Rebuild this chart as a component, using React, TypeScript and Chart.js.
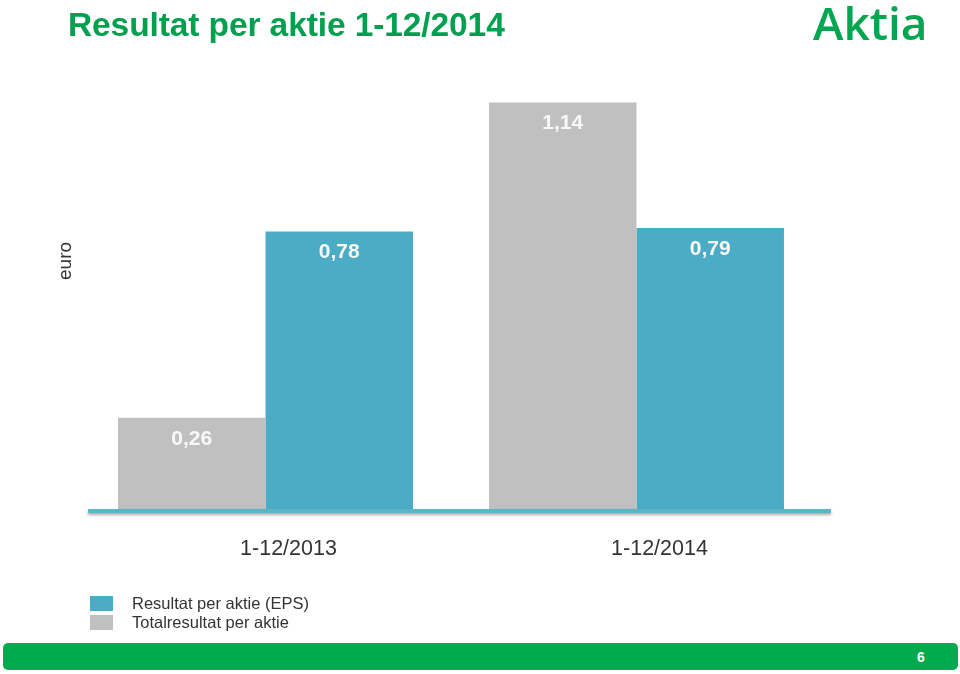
import React, { useEffect, useRef } from "react";
import { Chart, registerables } from "chart.js";

Chart.register(...registerables);

const categories = ["1-12/2013", "1-12/2014"];
const totalLabel = "Totalresultat per aktie";
const epsLabel = "Resultat per aktie (EPS)";
const totalValues = [0.26, 1.14];
const epsValues = [0.78, 0.79];
const yMax = 1.2;

const BLUE = "#4bacc6";
const GRAY = "#c0c0c0";
const GREEN = "#00ab4e";

const valueLabels = {
  id: "valueLabels",
  afterDatasetsDraw(chart: any) {
    const ctx = chart.ctx;
    ctx.save();
    ctx.font = "bold 21px 'Liberation Sans', Arial, sans-serif";
    ctx.fillStyle = "#f8f8f8";
    ctx.textAlign = "center";
    ctx.textBaseline = "middle";
    chart.data.datasets.forEach((ds: any, i: number) => {
      const meta = chart.getDatasetMeta(i);
      meta.data.forEach((el: any, j: number) => {
        const v = ds.data[j] as number;
        ctx.fillText(v.toFixed(2).replace(".", ","), el.x, el.y + 21);
      });
    });
    // axis line
    const a = chart.chartArea;
    ctx.shadowColor = "rgba(0,0,0,0.35)";
    ctx.shadowBlur = 3;
    ctx.shadowOffsetY = 2;
    ctx.strokeStyle = "#5bb5c6";
    ctx.lineWidth = 4;
    ctx.beginPath();
    ctx.moveTo(a.left + 8, a.bottom);
    ctx.lineTo(a.right + 9, a.bottom);
    ctx.stroke();
    ctx.restore();
  },
};

export default function App() {
  const ref = useRef<HTMLCanvasElement | null>(null);
  useEffect(() => {
    if (!ref.current) return;
    const chart = new Chart(ref.current, {
      type: "bar",
      data: {
        labels: categories,
        datasets: [
          { label: totalLabel, data: totalValues, backgroundColor: GRAY, categoryPercentage: 0.795, barPercentage: 1 },
          { label: epsLabel, data: epsValues, backgroundColor: BLUE, categoryPercentage: 0.795, barPercentage: 1 },
        ],
      },
      options: {
        responsive: false,
        animation: false,
        devicePixelRatio: 1,
        layout: { padding: { left: 80, right: 138, top: 81, bottom: 103 } },
        plugins: { legend: { display: false }, tooltip: { enabled: false } },
        scales: {
          x: {
            grid: { display: false, drawTicks: false },
            border: { display: false },
            ticks: {
              color: "#333333",
              padding: 25,
              labelOffset: 23,
              font: { size: 21.5, family: "'Liberation Sans', Arial, sans-serif" },
            },
            afterFit: (s: any) => {
              s.height = 60;
            },
          },
          y: { display: false, min: 0, max: yMax },
        },
      },
      plugins: [valueLabels],
    });
    return () => chart.destroy();
  }, []);

  const font = "'Liberation Sans', Arial, Helvetica, sans-serif";
  return (
    <div style={{ position: "fixed", left: 0, top: 0, width: 960, height: 674, background: "#fff", fontFamily: font, overflow: "hidden" }}>
      <canvas ref={ref} width={960} height={674} style={{ position: "absolute", left: 0, top: 0 }} />
      <div style={{ position: "absolute", left: 68, top: 6, fontSize: 33.5, fontWeight: "bold", color: "#00a04f", whiteSpace: "nowrap", letterSpacing: -0.1 }}>
        Resultat per aktie 1-12/2014
      </div>
      <div style={{ position: "absolute", left: 813, top: -9, fontSize: 46, fontWeight: 600, color: "#00a650", fontFamily: "'Open Sans', sans-serif", whiteSpace: "nowrap" }}>
        Aktia
      </div>
      <div style={{ position: "absolute", left: 65, top: 261, transform: "translate(-50%,-50%) rotate(-90deg)", fontSize: 19, color: "#333", whiteSpace: "nowrap" }}>
        euro
      </div>
      <div style={{ position: "absolute", left: 90, top: 594, fontSize: 16.5, color: "#333", lineHeight: "19px" }}>
        {[
          { c: BLUE, t: epsLabel },
          { c: GRAY, t: totalLabel },
        ].map((it) => (
          <div key={it.t} style={{ display: "flex", alignItems: "center", height: 19 }}>
            <span style={{ display: "inline-block", width: 23, height: 15, background: it.c, marginRight: 19 }} />
            <span>{it.t}</span>
          </div>
        ))}
      </div>
      <div style={{ position: "absolute", left: 3, top: 643, width: 955, height: 27, background: GREEN, borderRadius: 5 }}>
        <span style={{ position: "absolute", left: 914, top: 6, fontSize: 14, fontWeight: "bold", color: "#fff" }}>6</span>
      </div>
    </div>
  );
}
